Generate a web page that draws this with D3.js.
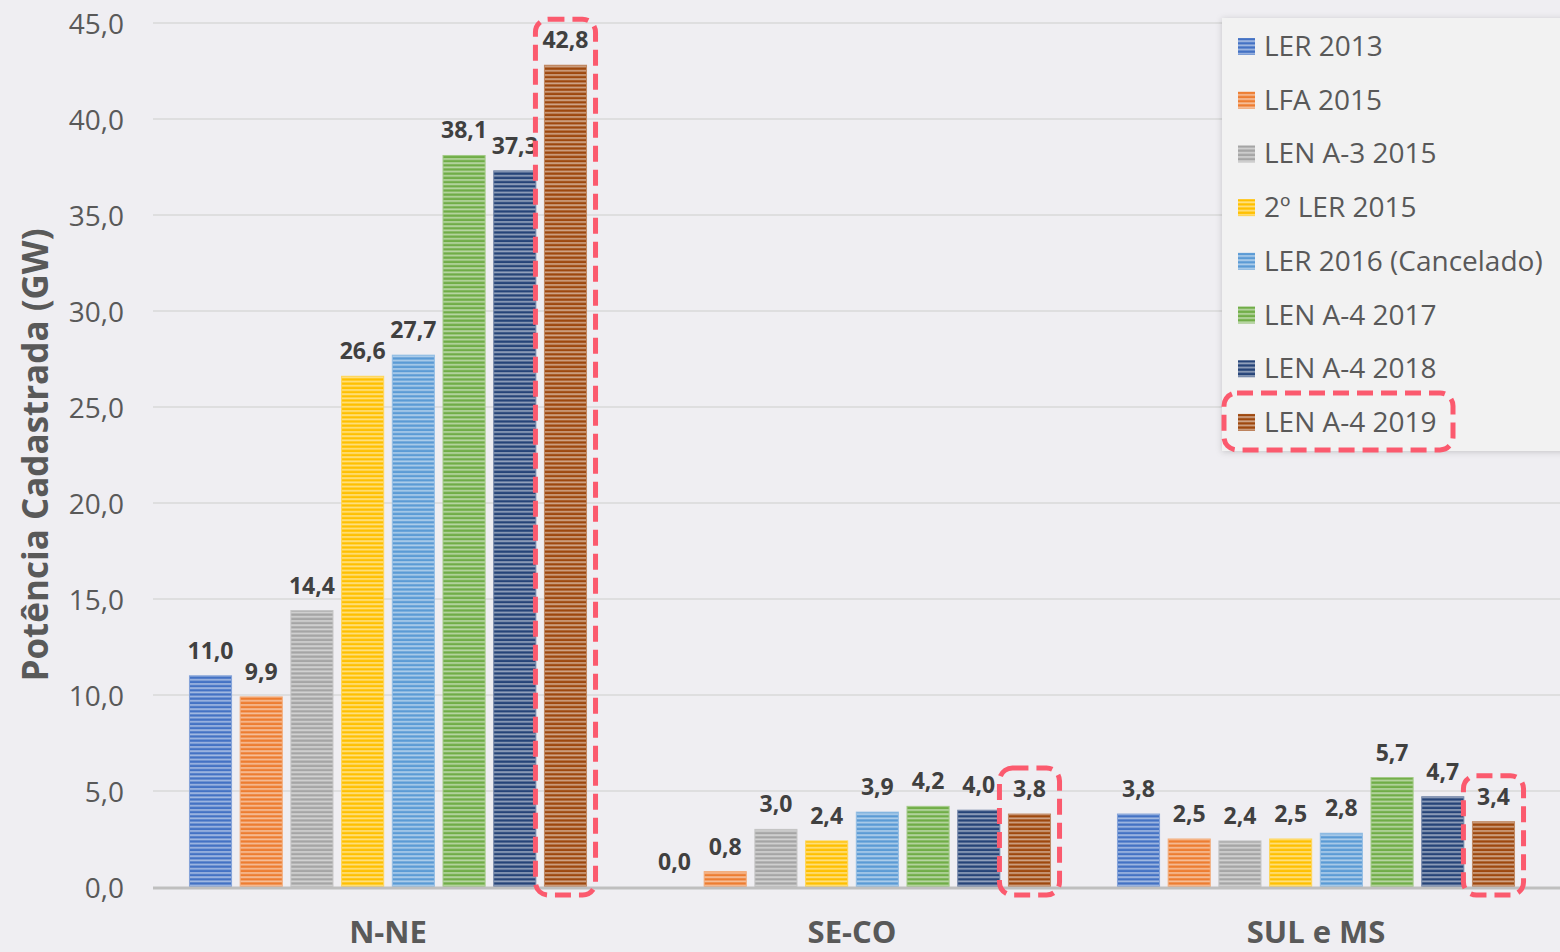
<!DOCTYPE html>
<html><head><meta charset="utf-8">
<script src="https://cdn.jsdelivr.net/npm/d3@7"></script>
<style>html,body{margin:0;padding:0;background:#efeef2;overflow:hidden}svg{display:block}</style>
</head><body>
<svg id="c" width="1560" height="952"></svg>
<script>
const categories = ["N-NE", "SE-CO", "SUL e MS"];
const seriesNames = ["LER 2013", "LFA 2015", "LEN A-3 2015", "2º LER 2015", "LER 2016 (Cancelado)", "LEN A-4 2017", "LEN A-4 2018", "LEN A-4 2019"];
const seriesColors = ["#4472c4", "#ed7d31", "#a5a5a5", "#ffc000", "#5b9bd5", "#70ad47", "#264478", "#9e480e"];
const valuesNNE = [11.0, 9.9, 14.4, 26.6, 27.7, 38.1, 37.3, 42.8];
const valuesSECO = [0.0, 0.8, 3.0, 2.4, 3.9, 4.2, 4.0, 3.8];
const valuesSUL = [3.8, 2.5, 2.4, 2.5, 2.8, 5.7, 4.7, 3.4];
const yTicks = [0, 5, 10, 15, 20, 25, 30, 35, 40, 45];
const yTitle = "Potência Cadastrada (GW)";
const highlightSeries = "LEN A-4 2019";

(function () {
const values = [valuesNNE, valuesSECO, valuesSUL];
const svg = d3.select("#c");
const W = 1560, H = 952;
const gridLeft = 153, mLeft = 156, mRight = 1548, mTop = 23, mBottom = 887;

const x0 = d3.scaleBand().domain(categories).range([mLeft, mRight]).paddingInner(0).paddingOuter(0);
const x1 = d3.scaleBand().domain(seriesNames).range([0, x0.bandwidth()]).paddingInner(0.17).paddingOuter(0.66);
const y = d3.scaleLinear().domain([0, 45]).range([mBottom, mTop]);

const fmt = v => d3.format(".1f")(v).replace(".", ",");

// patterns
const defs = svg.append("defs");
seriesColors.forEach((c, i) => {
  const p = defs.append("pattern").attr("id", "pat" + i).attr("patternUnits", "userSpaceOnUse")
    .attr("width", 4).attr("height", 4.2);
  p.append("rect").attr("width", 4).attr("height", 4.2).attr("fill", d3.interpolateRgb(c, "#ffffff")(0.5));
  p.append("rect").attr("y", 0.3).attr("width", 4).attr("height", 2.4).attr("fill", c);
});
const sh = defs.append("filter").attr("id", "shadow").attr("x", "-10%").attr("y", "-10%").attr("width", "120%").attr("height", "120%");
sh.append("feDropShadow").attr("dx", 0).attr("dy", 1).attr("stdDeviation", 3).attr("flood-color", "#000").attr("flood-opacity", 0.18);

// gridlines
svg.append("g").selectAll("line").data(yTicks.filter(t => t > 0)).join("line")
  .attr("x1", gridLeft).attr("x2", W).attr("y1", d => y(d)).attr("y2", d => y(d))
  .attr("stroke", "#d9d9d9").attr("stroke-width", 1.3);

// y axis labels
const yAxis = d3.axisLeft(y).tickValues(yTicks).tickFormat(fmt).tickSize(0).tickPadding(0);
const ya = svg.append("g").attr("transform", `translate(124,0)`).call(yAxis);
ya.select(".domain").remove();
ya.selectAll("text").attr("font-family", "Open Sans").attr("font-size", 28).attr("fill", "#595959").attr("dy", "0.36em");

// bars
const groups = svg.append("g").selectAll("g").data(categories).join("g")
  .attr("transform", d => `translate(${x0(d)},0)`);
groups.each(function(cat, ci) {
  const g = d3.select(this);
  const data = seriesNames.map((s, si) => ({s, si, v: values[ci][si]}));
  g.selectAll("rect").data(data.filter(d => d.v > 0)).join("rect")
    .attr("x", d => x1(d.s)).attr("width", x1.bandwidth())
    .attr("y", d => y(d.v)).attr("height", d => y(0) - y(d.v))
    .attr("fill", d => `url(#pat${d.si})`)
    .attr("stroke", d => d3.interpolateRgb(seriesColors[d.si], "#ffffff")(0.35)).attr("stroke-width", 1);
  g.selectAll("text").data(data).join("text")
    .attr("x", d => x1(d.s) + x1.bandwidth() / 2).attr("y", d => y(d.v) - 17)
    .attr("text-anchor", "middle").attr("font-family", "Open Sans").attr("font-weight", "bold")
    .attr("font-size", 23).attr("fill", "#404040").text(d => fmt(d.v));
});

// x axis line
svg.append("line").attr("x1", gridLeft).attr("x2", W).attr("y1", y(0) + 1).attr("y2", y(0) + 1)
  .attr("stroke", "#bfbfbf").attr("stroke-width", 3);

// category labels
const xAxis = d3.axisBottom(x0).tickSize(0).tickPadding(0);
const xa = svg.append("g").attr("transform", `translate(0,${mBottom})`).call(xAxis);
xa.select(".domain").remove();
xa.selectAll("text").attr("font-family", "Open Sans").attr("font-weight", "bold").attr("font-size", 31)
  .attr("fill", "#595959").attr("dy", null).attr("y", 56);

// y title
svg.append("text").attr("transform", `translate(48,455) rotate(-90)`).attr("text-anchor", "middle")
  .attr("font-family", "Open Sans").attr("font-weight", "bold").attr("font-size", 35).attr("fill", "#595959")
  .text(yTitle);

// legend
const lg = svg.append("g");
lg.append("rect").attr("x", 1222).attr("y", 18).attr("width", 360).attr("height", 433)
  .attr("fill", "#f2f2f2").attr("filter", "url(#shadow)");
const rowY = i => 46 + i * 53.7;
const items = lg.selectAll("g.it").data(seriesNames).join("g").attr("class", "it")
  .attr("transform", (d, i) => `translate(0,${rowY(i)})`);
items.append("rect").attr("x", 1238).attr("y", -8).attr("width", 17).attr("height", 17)
  .attr("fill", (d, i) => `url(#pat${i})`);
items.append("text").attr("x", 1264).attr("y", 0).attr("dy", "0.36em")
  .attr("font-family", "Open Sans").attr("font-size", 28).attr("fill", "#595959").text(d => d);

// highlight boxes
const hi = seriesNames.indexOf(highlightSeries);
const red = "#fb5a6e";
const dash = g => g.attr("fill", "none").attr("stroke", red).attr("stroke-width", 5)
  .attr("stroke-dasharray", "16 8").attr("rx", 13).attr("ry", 13);
categories.forEach((cat, ci) => {
  const v = values[ci][hi];
  const bx = x0(cat) + x1(highlightSeries);
  const ytop = y(v) - 46;
  svg.append("rect").attr("x", bx - 9).attr("y", ytop).attr("width", x1.bandwidth() + 18)
    .attr("height", (y(0) + 8) - ytop).call(dash);
});
svg.append("rect").attr("x", 1224).attr("y", rowY(hi) - 29).attr("width", 229).attr("height", 57).call(dash);
})();
</script>
</body></html>
